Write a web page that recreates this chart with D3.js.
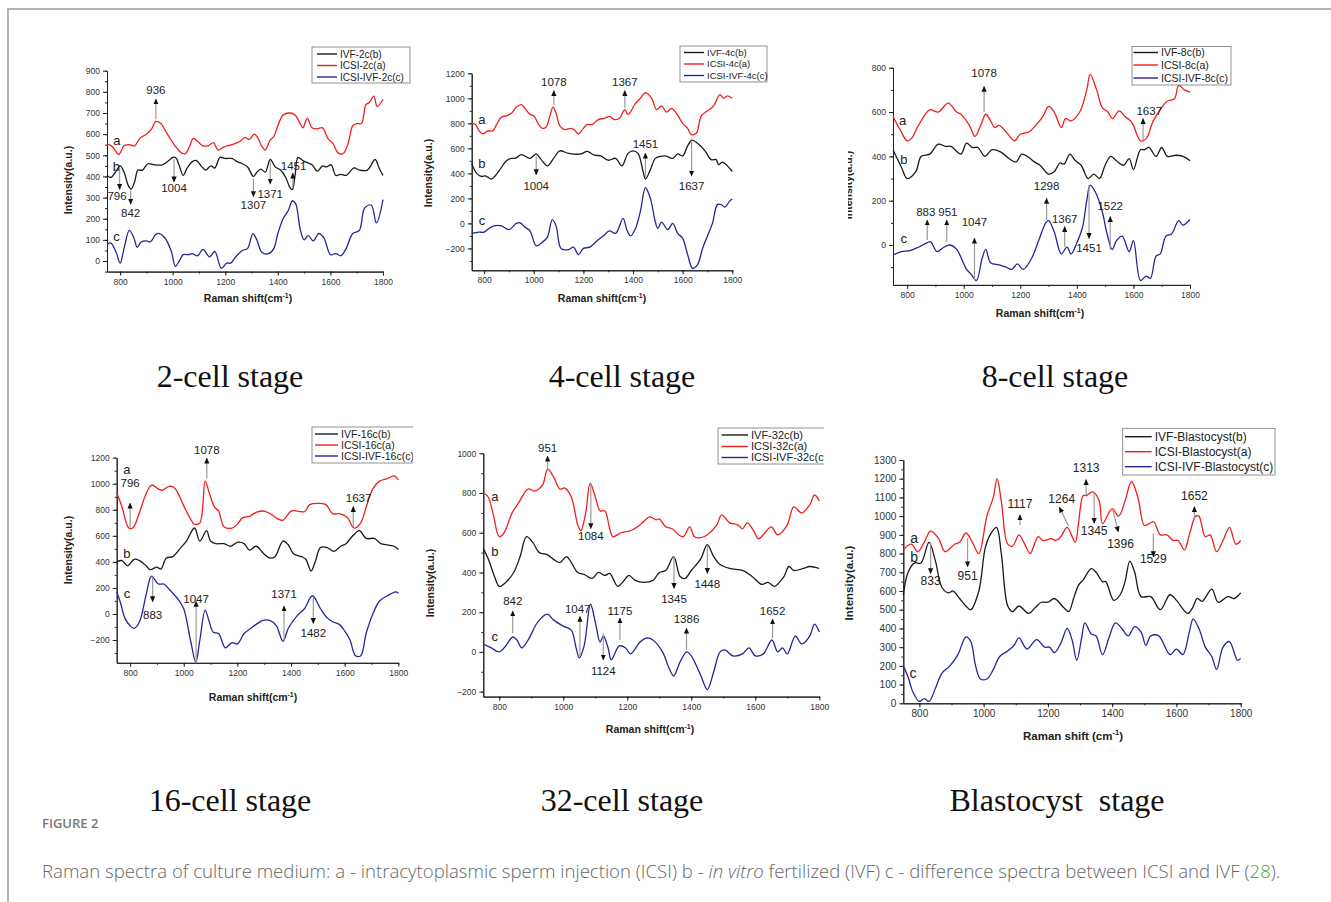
<!DOCTYPE html>
<html>
<head>
<meta charset="utf-8">
<script src="https://cdn.jsdelivr.net/npm/d3@7/dist/d3.min.js"></script>
<style>
body{margin:0;background:#fff;}
svg text{font-family:"Liberation Sans",Arial,sans-serif;}
</style>
</head>
<body>
<div id="chart-area"></div>
<script>
// ---------- spectra: [wavenumber, intensity] ----------
// 2-cell
const ivf2c = [[750,405],[765,395],[782,420],[800,450],[815,420],[830,360],[842,340],[855,375],[868,430],[885,430],[905,460],[930,455],[960,455],[985,475],[1000,490],[1012,488],[1025,450],[1040,405],[1055,440],[1075,470],[1090,475],[1108,450],[1125,430],[1145,450],[1160,440],[1180,490],[1200,485],[1225,485],[1245,470],[1265,460],[1285,445],[1307,400],[1320,420],[1335,435],[1352,420],[1371,480],[1390,445],[1410,430],[1430,395],[1445,350],[1455,338],[1465,400],[1477,490],[1495,475],[1512,465],[1530,455],[1550,425],[1570,450],[1585,445],[1603,455],[1620,405],[1640,410],[1660,405],[1690,440],[1710,430],[1740,430],[1770,480],[1785,440],[1800,405]];
const icsi2c = [[750,555],[770,540],[795,505],[815,545],[835,550],[855,545],[875,580],[900,600],[920,625],[936,660],[955,650],[975,610],[995,570],[1015,535],[1035,510],[1048,508],[1065,545],[1078,580],[1095,565],[1115,545],[1135,545],[1155,560],[1172,525],[1195,540],[1225,550],[1255,565],[1275,585],[1292,575],[1310,600],[1325,580],[1340,540],[1352,525],[1370,570],[1385,590],[1400,640],[1420,690],[1445,700],[1465,690],[1485,650],[1495,630],[1512,675],[1530,630],[1550,625],[1570,630],[1590,580],[1610,555],[1630,510],[1650,510],[1668,560],[1685,640],[1700,650],[1718,650],[1735,740],[1748,750],[1765,780],[1778,730],[1800,765]];
const diff2c = [[750,80],[765,85],[785,40],[800,-10],[815,60],[835,145],[852,110],[865,65],[880,90],[900,95],[915,90],[935,125],[950,130],[970,110],[995,45],[1010,-25],[1025,0],[1040,30],[1060,30],[1075,35],[1095,25],[1115,55],[1140,20],[1160,45],[1185,-35],[1205,-10],[1220,-10],[1240,20],[1265,50],[1285,60],[1305,130],[1320,100],[1340,40],[1365,35],[1385,60],[1400,130],[1420,200],[1440,240],[1455,285],[1468,270],[1485,150],[1500,100],[1515,120],[1535,95],[1555,130],[1575,110],[1600,30],[1620,35],[1640,25],[1660,60],[1685,130],[1710,145],[1730,250],[1755,265],[1775,180],[1800,290]];
// 4-cell
const ivf4c = [[750,480],[770,400],[790,375],[805,380],[830,355],[860,420],[890,500],[910,520],[925,520],[950,550],[985,520],[1010,555],[1030,510],[1055,460],[1080,520],[1105,580],[1140,560],[1190,555],[1215,575],[1245,545],[1270,540],[1300,505],[1330,520],[1355,460],[1380,560],[1400,580],[1420,560],[1440,420],[1450,355],[1470,430],[1490,520],[1510,535],[1530,540],[1560,520],[1580,555],[1600,540],[1620,620],[1637,665],[1660,640],[1690,580],[1715,510],[1735,510],[1745,470],[1760,490],[1780,460],[1800,415]];
const icsi4c = [[750,800],[765,790],[780,740],[795,715],[815,740],[835,740],[850,790],[870,850],[890,860],[910,880],[930,930],[950,950],[965,920],[985,870],[1000,860],[1020,790],[1035,760],[1050,770],[1065,860],[1078,930],[1090,880],[1105,780],[1125,750],[1150,760],[1165,745],[1180,715],[1200,760],[1215,790],[1235,790],[1260,830],[1285,840],[1305,855],[1325,830],[1345,840],[1367,910],[1380,870],[1410,960],[1430,1000],[1450,1045],[1475,1000],[1495,910],[1515,940],[1535,890],[1555,920],[1575,880],[1600,800],[1620,760],[1635,710],[1655,720],[1675,860],[1700,900],[1725,940],[1750,1030],[1765,1000],[1780,1020],[1800,1000]];
const diff4c = [[750,-80],[780,-70],[800,-70],[820,-40],[840,-20],[870,-20],[900,-50],[930,0],[945,5],[965,-30],[985,-60],[1010,-180],[1035,-150],[1055,-110],[1075,30],[1090,-20],[1110,-200],[1140,-210],[1160,-190],[1180,-250],[1200,-200],[1225,-190],[1260,-130],[1280,-100],[1305,-60],[1330,-80],[1360,40],[1375,-50],[1390,-100],[1410,-40],[1430,100],[1450,285],[1470,200],[1490,10],[1500,-40],[1515,10],[1540,-50],[1560,0],[1580,-80],[1600,-120],[1620,-250],[1640,-360],[1660,-330],[1680,-200],[1700,-100],[1720,0],[1740,150],[1755,150],[1770,130],[1790,180],[1800,195]];
// 8-cell
const ivf8c = [[750,430],[780,350],[800,300],[830,330],[850,400],[880,410],[910,455],[935,445],[955,445],[990,410],[1010,460],[1030,440],[1050,440],[1075,400],[1100,430],[1130,420],[1160,390],[1185,375],[1205,410],[1225,400],[1250,375],[1270,360],[1300,320],[1320,330],[1340,370],[1355,365],[1375,410],[1395,380],[1415,360],[1440,300],[1460,320],[1480,300],[1500,360],[1520,400],[1540,380],[1565,360],[1585,390],[1600,340],[1625,430],[1640,430],[1655,440],[1680,400],[1700,440],[1720,400],[1750,405],[1775,400],[1800,380]];
const icsi8c = [[750,580],[775,520],[800,470],[815,480],[840,540],[880,610],[910,600],[945,640],[975,600],[990,590],[1020,540],[1040,490],[1060,540],[1078,590],[1095,560],[1110,530],[1125,540],[1150,510],[1180,470],[1200,500],[1230,510],[1255,540],[1280,580],[1300,625],[1320,600],[1345,530],[1360,570],[1380,560],[1410,600],[1435,700],[1447,770],[1470,700],[1490,620],[1510,600],[1525,570],[1550,605],[1570,580],[1590,560],[1600,540],[1625,470],[1645,480],[1670,560],[1700,620],[1720,650],[1745,660],[1760,720],[1780,700],[1800,690]];
const diff8c = [[750,-45],[780,-30],[810,-25],[840,-10],[870,10],[883,15],[905,-30],[930,-10],[951,0],[975,-20],[1010,-110],[1025,-130],[1045,-160],[1065,-60],[1078,-20],[1095,-80],[1125,-90],[1150,-100],[1170,-110],[1190,-85],[1210,-110],[1240,-60],[1265,20],[1290,100],[1300,110],[1320,60],[1345,-40],[1365,-10],[1380,-40],[1400,10],[1420,80],[1435,200],[1447,270],[1465,240],[1490,150],[1505,60],[1525,-20],[1540,20],[1560,40],[1585,-30],[1600,20],[1625,-160],[1645,-140],[1660,-150],[1680,-50],[1695,-40],[1715,40],[1735,50],[1760,110],[1775,90],[1800,115]];
// 16-cell
const ivf16c = [[750,400],[770,410],[790,370],[815,420],[835,410],[860,370],[875,340],[900,360],[915,345],[935,430],[960,440],[985,500],[1010,560],[1040,660],[1060,560],[1085,640],[1100,560],[1120,540],[1150,540],[1175,520],[1200,550],[1225,540],[1245,490],[1270,520],[1295,470],[1320,430],[1340,440],[1370,560],[1390,530],[1410,460],[1440,440],[1455,420],[1475,330],[1490,400],[1510,510],[1535,510],[1560,480],[1585,520],[1605,540],[1630,600],[1655,640],[1680,580],[1710,580],[1735,540],[1760,530],[1785,520],[1800,495]];
const icsi16c = [[750,930],[770,820],[795,660],[810,660],[835,780],[855,900],[880,990],[905,960],[920,950],[945,980],[965,970],[985,900],[1000,830],[1020,750],[1040,690],[1060,700],[1080,1020],[1095,930],[1115,820],[1130,790],[1150,670],[1180,660],[1200,690],[1220,740],[1245,750],[1270,780],[1300,790],[1330,760],[1350,730],[1370,720],[1400,790],[1425,790],[1450,785],[1470,840],[1500,850],[1530,840],[1555,770],[1580,770],[1610,740],[1635,660],[1660,700],[1680,820],[1705,960],[1730,1020],[1760,1040],[1785,1060],[1800,1030]];
const diff16c = [[750,170],[765,80],[780,-30],[800,-90],[815,-110],[835,-60],[860,150],[880,290],[905,230],[925,230],[950,180],[980,110],[1000,40],[1025,-200],[1045,-370],[1060,-200],[1080,30],[1095,-60],[1110,-140],[1130,-150],[1155,-260],[1180,-220],[1200,-230],[1225,-150],[1250,-110],[1270,-80],[1295,-50],[1320,-50],[1345,-90],[1370,-210],[1390,-110],[1420,-20],[1450,40],[1480,140],[1510,40],[1535,-30],[1555,-60],[1580,-80],[1600,-130],[1620,-200],[1640,-320],[1660,-320],[1680,-150],[1705,0],[1730,100],[1760,140],[1790,170],[1800,160]];
// 32-cell
const ivf32c = [[750,520],[765,470],[785,380],[800,330],[820,350],[845,400],[865,480],[885,580],[905,550],[925,500],[950,490],[975,460],[990,450],[1010,480],[1025,450],[1045,400],[1065,390],[1090,370],[1110,400],[1130,385],[1145,395],[1170,330],[1190,360],[1205,385],[1225,360],[1250,350],[1280,360],[1300,400],[1320,410],[1345,480],[1365,380],[1380,370],[1400,410],[1430,470],[1450,540],[1470,480],[1490,440],[1520,420],[1560,410],[1590,380],[1620,340],[1640,350],[1660,330],[1680,360],[1690,380],[1705,430],[1720,410],[1750,420],[1770,430],[1800,420]];
const icsi32c = [[750,800],[765,780],[780,700],[800,580],[815,600],[840,700],[860,750],[890,820],[910,810],[935,840],[951,920],[970,880],[990,820],[1005,825],[1025,780],[1045,640],[1055,610],[1070,700],[1084,850],[1100,780],[1115,710],[1130,710],[1145,620],[1155,580],[1180,600],[1210,610],[1240,640],[1270,680],[1290,665],[1300,670],[1320,630],[1340,620],[1360,590],[1375,580],[1395,630],[1410,580],[1430,575],[1450,590],[1480,640],[1495,690],[1520,650],[1545,640],[1560,620],[1575,650],[1595,610],[1610,570],[1630,600],[1650,630],[1670,590],[1700,640],[1720,730],[1745,700],[1770,740],[1785,790],[1800,760]];
const diff32c = [[750,40],[775,20],[800,0],[820,30],[842,75],[855,60],[870,20],[890,60],[920,150],[950,190],[970,160],[1000,130],[1025,110],[1040,20],[1050,-30],[1065,30],[1085,240],[1100,150],[1115,50],[1125,80],[1140,20],[1150,-40],[1175,30],[1195,20],[1210,-10],[1240,50],[1260,70],[1280,60],[1310,0],[1330,-80],[1345,-120],[1365,-50],[1386,0],[1400,-20],[1430,-120],[1450,-190],[1470,-100],[1490,0],[1505,10],[1530,-20],[1560,-10],[1580,20],[1600,-20],[1625,-10],[1652,60],[1670,0],[1685,20],[1700,-10],[1725,80],[1745,40],[1770,80],[1785,140],[1800,100]];
// blastocyst
const ivfBl = [[750,580],[765,700],[785,750],[805,750],[830,860],[850,760],[870,620],[890,590],[905,600],[925,560],[945,520],[960,500],[985,600],[1005,830],[1020,900],[1040,940],[1055,800],[1075,520],[1090,490],[1110,520],[1140,480],[1160,510],[1180,540],[1200,540],[1220,560],[1250,510],[1265,490],[1280,560],[1295,630],[1310,660],[1335,720],[1350,700],[1370,650],[1380,650],[1405,550],[1425,580],[1440,650],[1455,760],[1470,700],[1490,570],[1520,570],[1550,500],[1580,580],[1600,550],[1635,480],[1650,510],[1665,560],[1680,545],[1710,610],[1730,540],[1760,570],[1780,560],[1800,590]];
const icsiBl = [[750,820],[775,850],[795,810],[815,860],[835,920],[860,880],[880,810],[910,850],[925,860],[945,910],[965,860],[985,800],[1010,1000],[1030,1100],[1042,1200],[1055,1080],[1075,850],[1090,840],[1110,900],[1125,860],[1145,800],[1160,860],[1170,890],[1185,870],[1210,880],[1225,870],[1240,890],[1260,940],[1285,860],[1295,960],[1310,1110],[1320,1110],[1340,1130],[1360,1080],[1370,960],[1400,1040],[1420,1000],[1440,1080],[1460,1185],[1480,1100],[1500,950],[1515,960],[1529,970],[1550,900],[1570,900],[1590,870],[1605,870],[1625,820],[1640,900],[1660,1000],[1670,1000],[1690,890],[1705,900],[1725,810],[1745,870],[1765,940],[1785,850],[1800,870]];
const diffBl = [[750,200],[765,140],[780,60],[800,10],[815,25],[830,10],[850,80],[870,160],[895,200],[920,260],[945,355],[960,330],[975,200],[990,130],[1010,130],[1030,180],[1050,250],[1075,280],[1095,310],[1110,350],[1135,290],[1165,340],[1190,300],[1205,300],[1220,270],[1240,320],[1260,400],[1275,340],[1290,230],[1305,350],[1315,430],[1335,370],[1350,360],[1370,260],[1390,350],[1410,430],[1430,400],[1450,360],[1470,410],[1490,380],[1505,310],[1520,360],[1545,360],[1580,260],[1600,290],[1620,260],[1640,380],[1652,450],[1670,400],[1690,300],[1710,250],[1725,180],[1745,300],[1765,330],[1790,230],[1800,240]];

// legend labels and stage titles
const legend2c = ["IVF-2c(b)", "ICSI-2c(a)", "ICSI-IVF-2c(c)"];
const legend4c = ["IVF-4c(b)", "ICSI-4c(a)", "ICSI-IVF-4c(c)"];
const legend8c = ["IVF-8c(b)", "ICSI-8c(a)", "ICSI-IVF-8c(c)"];
const legend16c = ["IVF-16c(b)", "ICSI-16c(a)", "ICSI-IVF-16c(c)"];
const legend32c = ["IVF-32c(b)", "ICSI-32c(a)", "ICSI-IVF-32c(c)"];
const legendBl = ["IVF-Blastocyst(b)", "ICSI-Blastocyst(a)", "ICSI-IVF-Blastocyst(c)"];
const titles = ["2-cell stage", "4-cell stage", "8-cell stage", "16-cell stage", "32-cell stage", "Blastocyst  stage"];

const colors = ["#1a1a1a", "#f21d1d", "#25259a"];

// ---------- layout of each panel (pixel positions, not data) ----------
// notes: t label, x wavenumber, a tail value, b head value, ly label baseline value, (x2 head wavenumber, lx label wavenumber)
const panels = [
  {series: [ivf2c, icsi2c, diff2c], legend: legend2c, title: titles[0], tx: 230, ty: 387,
   xr: [107, 383], yd: [-50, 900], yr: [271.6, 70.7], yMajor: d3.range(0, 901, 100), yMinor: d3.range(-50, 901, 50),
   xt: "Raman shift(cm", xtPos: [248, 302], ytPos: [68, 180],
   leg: {x: 312, y: 47, w: 98, h: 36, rows: [54, 65.5, 77], lx: [317, 337], fs: 10},
   letters: [["a", 788, 572], ["b", 786, 446], ["c", 786, 115]],
   notes: [{t:"936", x:936, a:670, b:765, ly:790}, {t:"796", x:798, a:440, b:340, ly:290, lx:788},
           {t:"842", x:840, a:335, b:270, ly:210}, {t:"1004", x:1005, a:480, b:375, ly:328},
           {t:"1307", x:1307, a:390, b:305, ly:248}, {t:"1371", x:1371, a:470, b:365, ly:300},
           {t:"1451", x:1457, a:345, b:415, ly:432, lx:1460}]},
  {series: [ivf4c, icsi4c, diff4c], legend: legend4c, title: titles[1], tx: 622, ty: 387,
   xr: [471.7, 732.3], yd: [-375, 1200], yr: [270.3, 73.3], yMajor: d3.range(-200, 1201, 200), yMinor: d3.range(-300, 1201, 100),
   xt: "Raman shift(cm", xtPos: [602, 302], ytPos: [428, 173],
   leg: {x: 680, y: 46, w: 87, h: 36, rows: [52.5, 64, 75.5], lx: [684, 704], fs: 9.5},
   letters: [["a", 791, 832], ["b", 791, 480], ["c", 791, 27]],
   notes: [{t:"1078", x:1081, a:945, b:1060, ly:1100}, {t:"1367", x:1367, a:925, b:1060, ly:1100},
           {t:"1451", x:1450, a:370, b:560, ly:600}, {t:"1004", x:1010, a:540, b:390, ly:268},
           {t:"1637", x:1636, a:650, b:380, ly:268}]},
  {series: [ivf8c, icsi8c, diff8c], legend: legend8c, title: titles[2], tx: 1055, ty: 387,
   xr: [893, 1190], yd: [-180, 800], yr: [284.9, 67.7], yMajor: d3.range(0, 801, 200), yMinor: d3.range(-100, 801, 100),
   xt: "Raman shift(cm", xtPos: [1040, 317], ytPos: [852, 185], ytClip: 848,
   leg: {x: 1132, y: 46.5, w: 99, h: 38.5, rows: [52.5, 65, 78], lx: [1133.5, 1158], fs: 10.5},
   letters: [["a", 784, 564], ["b", 788, 388], ["c", 788, 30]],
   notes: [{t:"1078", x:1072, a:600, b:715, ly:760}, {t:"1637", x:1634, a:474, b:570, ly:585, lx:1656},
           {t:"883", x:871, a:23, b:112, ly:130, lx:866}, {t:"951", x:940, a:15, b:112, ly:130, lx:944},
           {t:"1047", x:1038, a:-158, b:30, ly:86}, {t:"1298", x:1293, a:113, b:210, ly:248},
           {t:"1367", x:1357, a:-8, b:82, ly:100}, {t:"1451", x:1443, a:270, b:30, ly:-30},
           {t:"1522", x:1518, a:-23, b:128, ly:158}]},
  {series: [ivf16c, icsi16c, diff16c], legend: legend16c, title: titles[3], tx: 230, ty: 811, legClip: 413,
   xr: [116.7, 398.3], yd: [-375, 1200], yr: [662.8, 457.7], yMajor: d3.range(-200, 1201, 200), yMinor: d3.range(-300, 1201, 100),
   xt: "Raman shift(cm", xtPos: [253, 701], ytPos: [68, 550],
   leg: {x: 312, y: 427, w: 110, h: 36, rows: [434, 445, 456], lx: [315, 338], fs: 10.5},
   letters: [["a", 788, 1111], ["b", 788, 466], ["c", 788, 159]],
   notes: [{t:"796", x:800, a:658, b:850, ly:975}, {t:"1078", x:1086, a:1040, b:1195, ly:1226},
           {t:"1637", x:1632, a:670, b:824, ly:862, lx:1652}, {t:"883", x:884, a:287, b:95, ly:-35},
           {t:"1047", x:1046, a:-366, b:95, ly:82}, {t:"1371", x:1374, a:-200, b:60, ly:120},
           {t:"1482", x:1483, a:133, b:-72, ly:-174}]},
  {series: [ivf32c, icsi32c, diff32c], legend: legend32c, title: titles[4], tx: 622, ty: 811, legClip: 824,
   xr: [483.3, 819.3], yd: [-225, 1000], yr: [696.6, 453.3], yMajor: d3.range(-200, 1001, 200), yMinor: d3.range(-200, 1001, 100),
   xt: "Raman shift(cm", xtPos: [650, 733], ytPos: [430, 583],
   leg: {x: 718, y: 428, w: 120, h: 36, rows: [435, 446.5, 457.5], lx: [721.5, 748], fs: 11},
   letters: [["a", 786, 785], ["b", 786, 505], ["c", 786, 77]],
   notes: [{t:"951", x:951, a:924, b:985, ly:1008}, {t:"1084", x:1086, a:849, b:622, ly:562},
           {t:"1345", x:1346, a:480, b:320, ly:245}, {t:"1448", x:1450, a:539, b:396, ly:320},
           {t:"842", x:842, a:94, b:205, ly:236}, {t:"1047", x:1052, a:-20, b:178, ly:195, lx:1045},
           {t:"1124", x:1125, a:94, b:-40, ly:-116}, {t:"1175", x:1177, a:60, b:170, ly:186},
           {t:"1386", x:1385, a:10, b:119, ly:144}, {t:"1652", x:1654, a:69, b:165, ly:186}]},
  {series: [ivfBl, icsiBl, diffBl], legend: legendBl, title: titles[5], tx: 1057, ty: 811, big: true,
   xr: [903.3, 1240.7], yd: [0, 1300], yr: [703.3, 460], yMajor: d3.range(0, 1301, 100), yMinor: d3.range(0, 1301, 50),
   xt: "Raman shift (cm", xtPos: [1073, 740], ytPos: [849, 583],
   leg: {x: 1122.7, y: 428.3, w: 152.3, h: 46.7, rows: [436.7, 451.7, 466.7], lx: [1125, 1151.7], fs: 12},
   letters: [["a", 784, 882], ["b", 784, 780], ["c", 780, 160]],
   notes: [{t:"1313", x:1319, a:1113, b:1195, ly:1238}, {t:"1117", x:1113, a:953, b:1006, ly:1042},
           {t:"1264", x:1264, x2:1236, a:947, b:1047, ly:1072, lx:1243}, {t:"1652", x:1656, a:988, b:1050, ly:1086},
           {t:"1345", x:1344, a:1131, b:962, ly:899}, {t:"1396", x:1402, x2:1419, a:1033, b:917, ly:828, lx:1426},
           {t:"1529", x:1528, a:908, b:784, ly:748}, {t:"833", x:835, a:855, b:694, ly:632},
           {t:"951", x:950, a:882, b:730, ly:659}]}
];

const svg = d3.select("#chart-area").append("svg")
    .attr("width", 1331)
    .attr("height", 902);

const defs = svg.append("defs");
defs.append("marker")
    .attr("id", "head")
    .attr("viewBox", "0 0 8 8")
    .attr("refX", 7).attr("refY", 4)
    .attr("markerWidth", 6).attr("markerHeight", 6)
    .attr("markerUnits", "userSpaceOnUse")
    .attr("orient", "auto")
    .append("path").attr("d", "M0,0.5 L8,4 L0,7.5 z").attr("fill", "#111");

// page frame
svg.append("path").attr("d", "M8,902 V9 H1331").attr("fill", "none").attr("stroke", "#b4b4b4").attr("stroke-width", 2);

panels.forEach(function(p, pi) {
    const g = svg.append("g");
    const fs = p.big ? 10 : 8.5;
    const x = d3.scaleLinear().domain([750, 1800]).range(p.xr);
    const y = d3.scaleLinear().domain(p.yd).range(p.yr);

    // minor ticks
    g.append("g").attr("transform", `translate(0,${p.yr[0]})`)
        .call(d3.axisBottom(x).tickValues(d3.range(800, 1801, 100)).tickSize(2).tickSizeOuter(0).tickFormat(""));
    g.append("g").attr("transform", `translate(${p.xr[0]},0)`)
        .call(d3.axisLeft(y).tickValues(p.yMinor).tickSize(2).tickSizeOuter(0).tickFormat(""));
    // major ticks
    const xa = g.append("g").attr("transform", `translate(0,${p.yr[0]})`)
        .call(d3.axisBottom(x).tickValues(d3.range(800, 1801, 200)).tickSize(4).tickSizeOuter(0).tickFormat(d3.format("d")));
    const ya = g.append("g").attr("transform", `translate(${p.xr[0]},0)`)
        .call(d3.axisLeft(y).tickValues(p.yMajor).tickSize(4).tickSizeOuter(0).tickFormat(d3.format("d")));
    [xa, ya].forEach(a => a.selectAll("text").style("font-size", fs + "px").attr("fill", "#333")
        .style("font-family", '"Liberation Sans", Arial, sans-serif'));
    g.selectAll(".domain").attr("stroke", "#222");
    g.selectAll(".tick line").attr("stroke", "#222");

    // axis titles
    const tfs = p.big ? 11.5 : 10.5;
    const xt = g.append("text").attr("x", p.xtPos[0]).attr("y", p.xtPos[1]).attr("text-anchor", "middle")
        .style("font-size", tfs + "px").style("font-weight", "bold").attr("fill", "#222").text(p.xt);
    xt.append("tspan").attr("dy", -tfs * 0.4).style("font-size", (tfs * 0.65) + "px").text("-1");
    xt.append("tspan").attr("dy", tfs * 0.4).text(")");
    let yg = g;
    if (p.ytClip) {
        defs.append("clipPath").attr("id", "yclip" + pi)
            .append("rect").attr("x", p.ytClip).attr("y", 0).attr("width", 20).attr("height", 400);
        yg = g.append("g").attr("clip-path", "url(#yclip" + pi + ")");
    }
    yg.append("text").attr("transform", `translate(${p.ytPos[0]},${p.ytPos[1]}) rotate(-90)`)
        .attr("text-anchor", "middle").attr("dy", p.ytClip ? 0 : "0.35em")
        .style("font-size", tfs + "px").style("font-weight", "bold").attr("fill", "#222").text("Intensity(a.u.)");

    // spectra
    const line = d3.line().x(d => x(d[0])).y(d => y(d[1])).curve(d3.curveCatmullRom.alpha(0.5));
    p.series.forEach(function(s, si) {
        g.append("path").datum(s)
            .attr("d", line)
            .attr("fill", "none")
            .attr("stroke", colors[si])
            .attr("stroke-width", 1.3);
    });

    // curve letters
    g.selectAll(".letter").data(p.letters).enter().append("text")
        .attr("x", d => x(d[1])).attr("y", d => y(d[2])).attr("dy", "0.35em")
        .attr("text-anchor", "middle")
        .style("font-size", (p.big ? 14 : 13) + "px").attr("fill", "#222")
        .text(d => d[0]);

    // annotation arrows
    const nfs = p.big ? 12 : 11.5;
    p.notes.forEach(function(n) {
        g.append("line")
            .attr("x1", x(n.x)).attr("y1", y(n.a))
            .attr("x2", x(n.x2 || n.x)).attr("y2", y(n.b))
            .attr("stroke", "#9a9a9a").attr("stroke-width", 1.2)
            .attr("marker-end", "url(#head)");
        g.append("text")
            .attr("x", x(n.lx || n.x)).attr("y", y(n.ly))
            .attr("text-anchor", "middle")
            .style("font-size", nfs + "px").attr("fill", "#222")
            .text(n.t);
    });

    // legend (the source image crops some of them on the right)
    const L = p.leg;
    let lg = g.append("g");
    if (p.legClip) {
        defs.append("clipPath").attr("id", "lclip" + pi)
            .append("rect").attr("x", 0).attr("y", 0).attr("width", p.legClip).attr("height", 902);
        lg.attr("clip-path", "url(#lclip" + pi + ")");
    }
    lg.append("rect").attr("x", L.x).attr("y", L.y).attr("width", L.w).attr("height", L.h)
        .attr("fill", "#fff").attr("stroke", "#777").attr("stroke-width", 0.8);
    p.legend.forEach(function(t, i) {
        lg.append("line").attr("x1", L.lx[0]).attr("x2", L.lx[1]).attr("y1", L.rows[i]).attr("y2", L.rows[i])
            .attr("stroke", colors[i]).attr("stroke-width", 1.4);
        lg.append("text").attr("x", L.lx[1] + 3).attr("y", L.rows[i]).attr("dy", "0.35em")
            .style("font-size", L.fs + "px").attr("fill", "#222").text(t);
    });

    // stage title
    svg.append("text").attr("x", p.tx).attr("y", p.ty).attr("text-anchor", "middle")
        .style("font-family", '"Liberation Serif", "Times New Roman", serif')
        .style("font-size", "32px").attr("fill", "#111")
        .attr("xml:space", "preserve")
        .text(p.title);
});

// caption
svg.append("text").attr("x", 42).attr("y", 828)
    .style("font-family", '"Open Sans", sans-serif').style("font-size", "13px").style("font-weight", "600")
    .attr("fill", "#777").text("FIGURE 2");
const cap = svg.append("text").attr("x", 42).attr("y", 878)
    .style("font-family", '"Open Sans", sans-serif').style("font-size", "18.6px").style("font-weight", "300")
    .attr("fill", "#666");
cap.append("tspan").text("Raman spectra of culture medium: a - intracytoplasmic sperm injection (ICSI) b - ");
cap.append("tspan").style("font-style", "italic").text("in vitro");
cap.append("tspan").text(" fertilized (IVF) c - difference spectra between ICSI and IVF (");
cap.append("tspan").attr("fill", "#3aaa35").text("28");
cap.append("tspan").text(").");
</script>
</body>
</html>
